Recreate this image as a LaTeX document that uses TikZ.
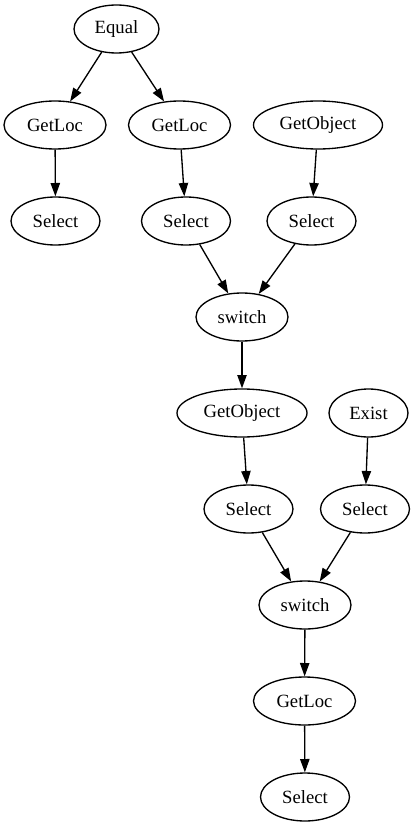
\documentclass[tikz,border=0pt]{standalone}
\usepackage{fontspec}
\setmainfont{Liberation Serif}
\usetikzlibrary{shapes.geometric,arrows.meta}
\begin{document}
\begin{tikzpicture}[x=0.75pt,y=-0.75pt,
  nd/.style={ellipse,draw,line width=1pt,inner sep=0pt,minimum height=36pt,font=\fontsize{14pt}{16pt}\selectfont},
  edge/.style={line width=1pt,-{Triangle[length=10pt,width=7pt]}}]
\useasboundingbox (0,0) rectangle (414,827);
\node[nd,minimum width=63.75pt] (eq) at (116.5,29) {Equal};
\node[nd,minimum width=76.5pt] (gl1) at (55,125) {GetLoc};
\node[nd,minimum width=76.5pt] (gl2) at (179.5,125) {GetLoc};
\node[nd,minimum width=96.75pt] (go1) at (318,125) {GetObject};
\node[nd,minimum width=66.75pt] (s1) at (55.5,221) {Select};
\node[nd,minimum width=66.75pt] (s2) at (186,221) {Select};
\node[nd,minimum width=66.75pt] (s3) at (311.5,221) {Select};
\node[nd,minimum width=69pt] (sw1) at (242,317) {switch};
\node[nd,minimum width=97.5pt] (go2) at (242,413) {GetObject};
\node[nd,minimum width=59.25pt] (ex) at (368.5,413) {Exist};
\node[nd,minimum width=66.75pt] (s4) at (248.5,509) {Select};
\node[nd,minimum width=66.75pt] (s5) at (365,509) {Select};
\node[nd,minimum width=69pt] (sw2) at (305,605) {switch};
\node[nd,minimum width=76.5pt] (gl3) at (304.5,701) {GetLoc};
\node[nd,minimum width=66.75pt] (s6) at (305,797) {Select};
\draw[edge] (eq) -- (gl1);
\draw[edge] (eq) -- (gl2);
\draw[edge] (gl1) -- (s1);
\draw[edge] (gl2) -- (s2);
\draw[edge] (go1) -- (s3);
\draw[edge] (s2) -- (sw1);
\draw[edge] (s3) -- (sw1);
\draw[edge] (sw1) -- (go2);
\draw[edge] (go2) -- (s4);
\draw[edge] (ex) -- (s5);
\draw[edge] (s4) -- (sw2);
\draw[edge] (s5) -- (sw2);
\draw[edge] (sw2) -- (gl3);
\draw[edge] (gl3) -- (s6);
\end{tikzpicture}
\end{document}
